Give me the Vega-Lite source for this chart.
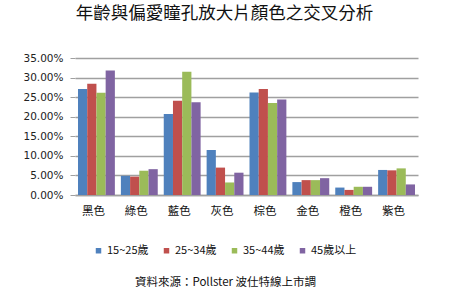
{
  "$schema": "https://vega.github.io/schema/vega-lite/v6.json",
  "autosize": {"type": "none"},
  "width": 343,
  "height": 137,
  "padding": {"left": 75, "top": 58, "right": 32, "bottom": 98},
  "background": "white",
  "title": {
    "text": "年齡與偏愛瞳孔放大片顏色之交叉分析",
    "anchor": "middle",
    "dx": -22,
    "offset": 31,
    "fontSize": 17.5,
    "font": "Noto Sans CJK TC",
    "fontWeight": "normal",
    "color": "#111"
  },
  "data": {
    "values": [
      {"color": "黑色", "age": "15~25歲", "value": 0.271},
      {"color": "黑色", "age": "25~34歲", "value": 0.284},
      {"color": "黑色", "age": "35~44歲", "value": 0.261},
      {"color": "黑色", "age": "45歲以上", "value": 0.318},
      {"color": "綠色", "age": "15~25歲", "value": 0.049},
      {"color": "綠色", "age": "25~34歲", "value": 0.047},
      {"color": "綠色", "age": "35~44歲", "value": 0.062},
      {"color": "綠色", "age": "45歲以上", "value": 0.066},
      {"color": "藍色", "age": "15~25歲", "value": 0.207},
      {"color": "藍色", "age": "25~34歲", "value": 0.241},
      {"color": "藍色", "age": "35~44歲", "value": 0.315},
      {"color": "藍色", "age": "45歲以上", "value": 0.237},
      {"color": "灰色", "age": "15~25歲", "value": 0.115},
      {"color": "灰色", "age": "25~34歲", "value": 0.070},
      {"color": "灰色", "age": "35~44歲", "value": 0.032},
      {"color": "灰色", "age": "45歲以上", "value": 0.057},
      {"color": "棕色", "age": "15~25歲", "value": 0.262},
      {"color": "棕色", "age": "25~34歲", "value": 0.271},
      {"color": "棕色", "age": "35~44歲", "value": 0.235},
      {"color": "棕色", "age": "45歲以上", "value": 0.244},
      {"color": "金色", "age": "15~25歲", "value": 0.033},
      {"color": "金色", "age": "25~34歲", "value": 0.038},
      {"color": "金色", "age": "35~44歲", "value": 0.038},
      {"color": "金色", "age": "45歲以上", "value": 0.043},
      {"color": "橙色", "age": "15~25歲", "value": 0.019},
      {"color": "橙色", "age": "25~34歲", "value": 0.013},
      {"color": "橙色", "age": "35~44歲", "value": 0.021},
      {"color": "橙色", "age": "45歲以上", "value": 0.021},
      {"color": "紫色", "age": "15~25歲", "value": 0.064},
      {"color": "紫色", "age": "25~34歲", "value": 0.063},
      {"color": "紫色", "age": "35~44歲", "value": 0.068},
      {"color": "紫色", "age": "45歲以上", "value": 0.027}
    ]
  },
  "mark": {"type": "bar", "stroke": null},
  "encoding": {
    "x": {
      "field": "color",
      "type": "nominal",
      "sort": ["黑色", "綠色", "藍色", "灰色", "棕色", "金色", "橙色", "紫色"],
      "scale": {"paddingInner": 0.14, "paddingOuter": 0.07},
      "axis": {
        "title": "資料來源：Pollster 波仕特線上市調",
        "titleX": 150,
        "titleY": 87,
        "titleBaseline": "middle",
        "titleFont": "Noto Sans CJK TC",
        "titleFontSize": 11.5,
        "titleFontWeight": "normal",
        "titleColor": "#111",
        "labelAngle": 0,
        "labelFont": "Noto Sans CJK TC",
        "labelFontSize": 11.5,
        "labelColor": "#111",
        "labelPadding": 10,
        "labelOffset": -3,
        "ticks": false,
        "domainColor": "#A0A0A0",
        "domainWidth": 1.5
      }
    },
    "xOffset": {
      "field": "age",
      "type": "nominal",
      "sort": ["15~25歲", "25~34歲", "35~44歲", "45歲以上"],
      "scale": {"paddingInner": 0, "paddingOuter": 0}
    },
    "y": {
      "field": "value",
      "type": "quantitative",
      "scale": {"domain": [0, 0.35], "nice": false},
      "axis": {
        "title": null,
        "format": ".2%",
        "values": [0, 0.05, 0.1, 0.15, 0.2, 0.25, 0.3, 0.35],
        "labelFont": "DejaVu Sans",
        "labelFontSize": 10.5,
        "labelColor": "#222",
        "tickSize": 5,
        "tickColor": "#A0A0A0",
        "labelPadding": 7,
        "domain": false,
        "gridColor": "#A0A0A0",
        "gridWidth": 1.5
      }
    },
    "color": {
      "field": "age",
      "type": "nominal",
      "sort": ["15~25歲", "25~34歲", "35~44歲", "45歲以上"],
      "scale": {"range": ["#4F81BD", "#C0504D", "#9BBB59", "#8064A2"]},
      "legend": {
        "title": null,
        "orient": "none",
        "legendX": 18,
        "legendY": 187,
        "direction": "horizontal",
        "columns": 4,
        "columnPadding": 12,
        "symbolType": "square",
        "symbolSize": 30,
        "symbolStrokeWidth": 0,
        "labelFont": "Noto Sans CJK TC",
        "labelFontSize": 11,
        "labelColor": "#111",
        "labelOffset": 3
      }
    }
  },
  "config": {"view": {"stroke": null}}
}
